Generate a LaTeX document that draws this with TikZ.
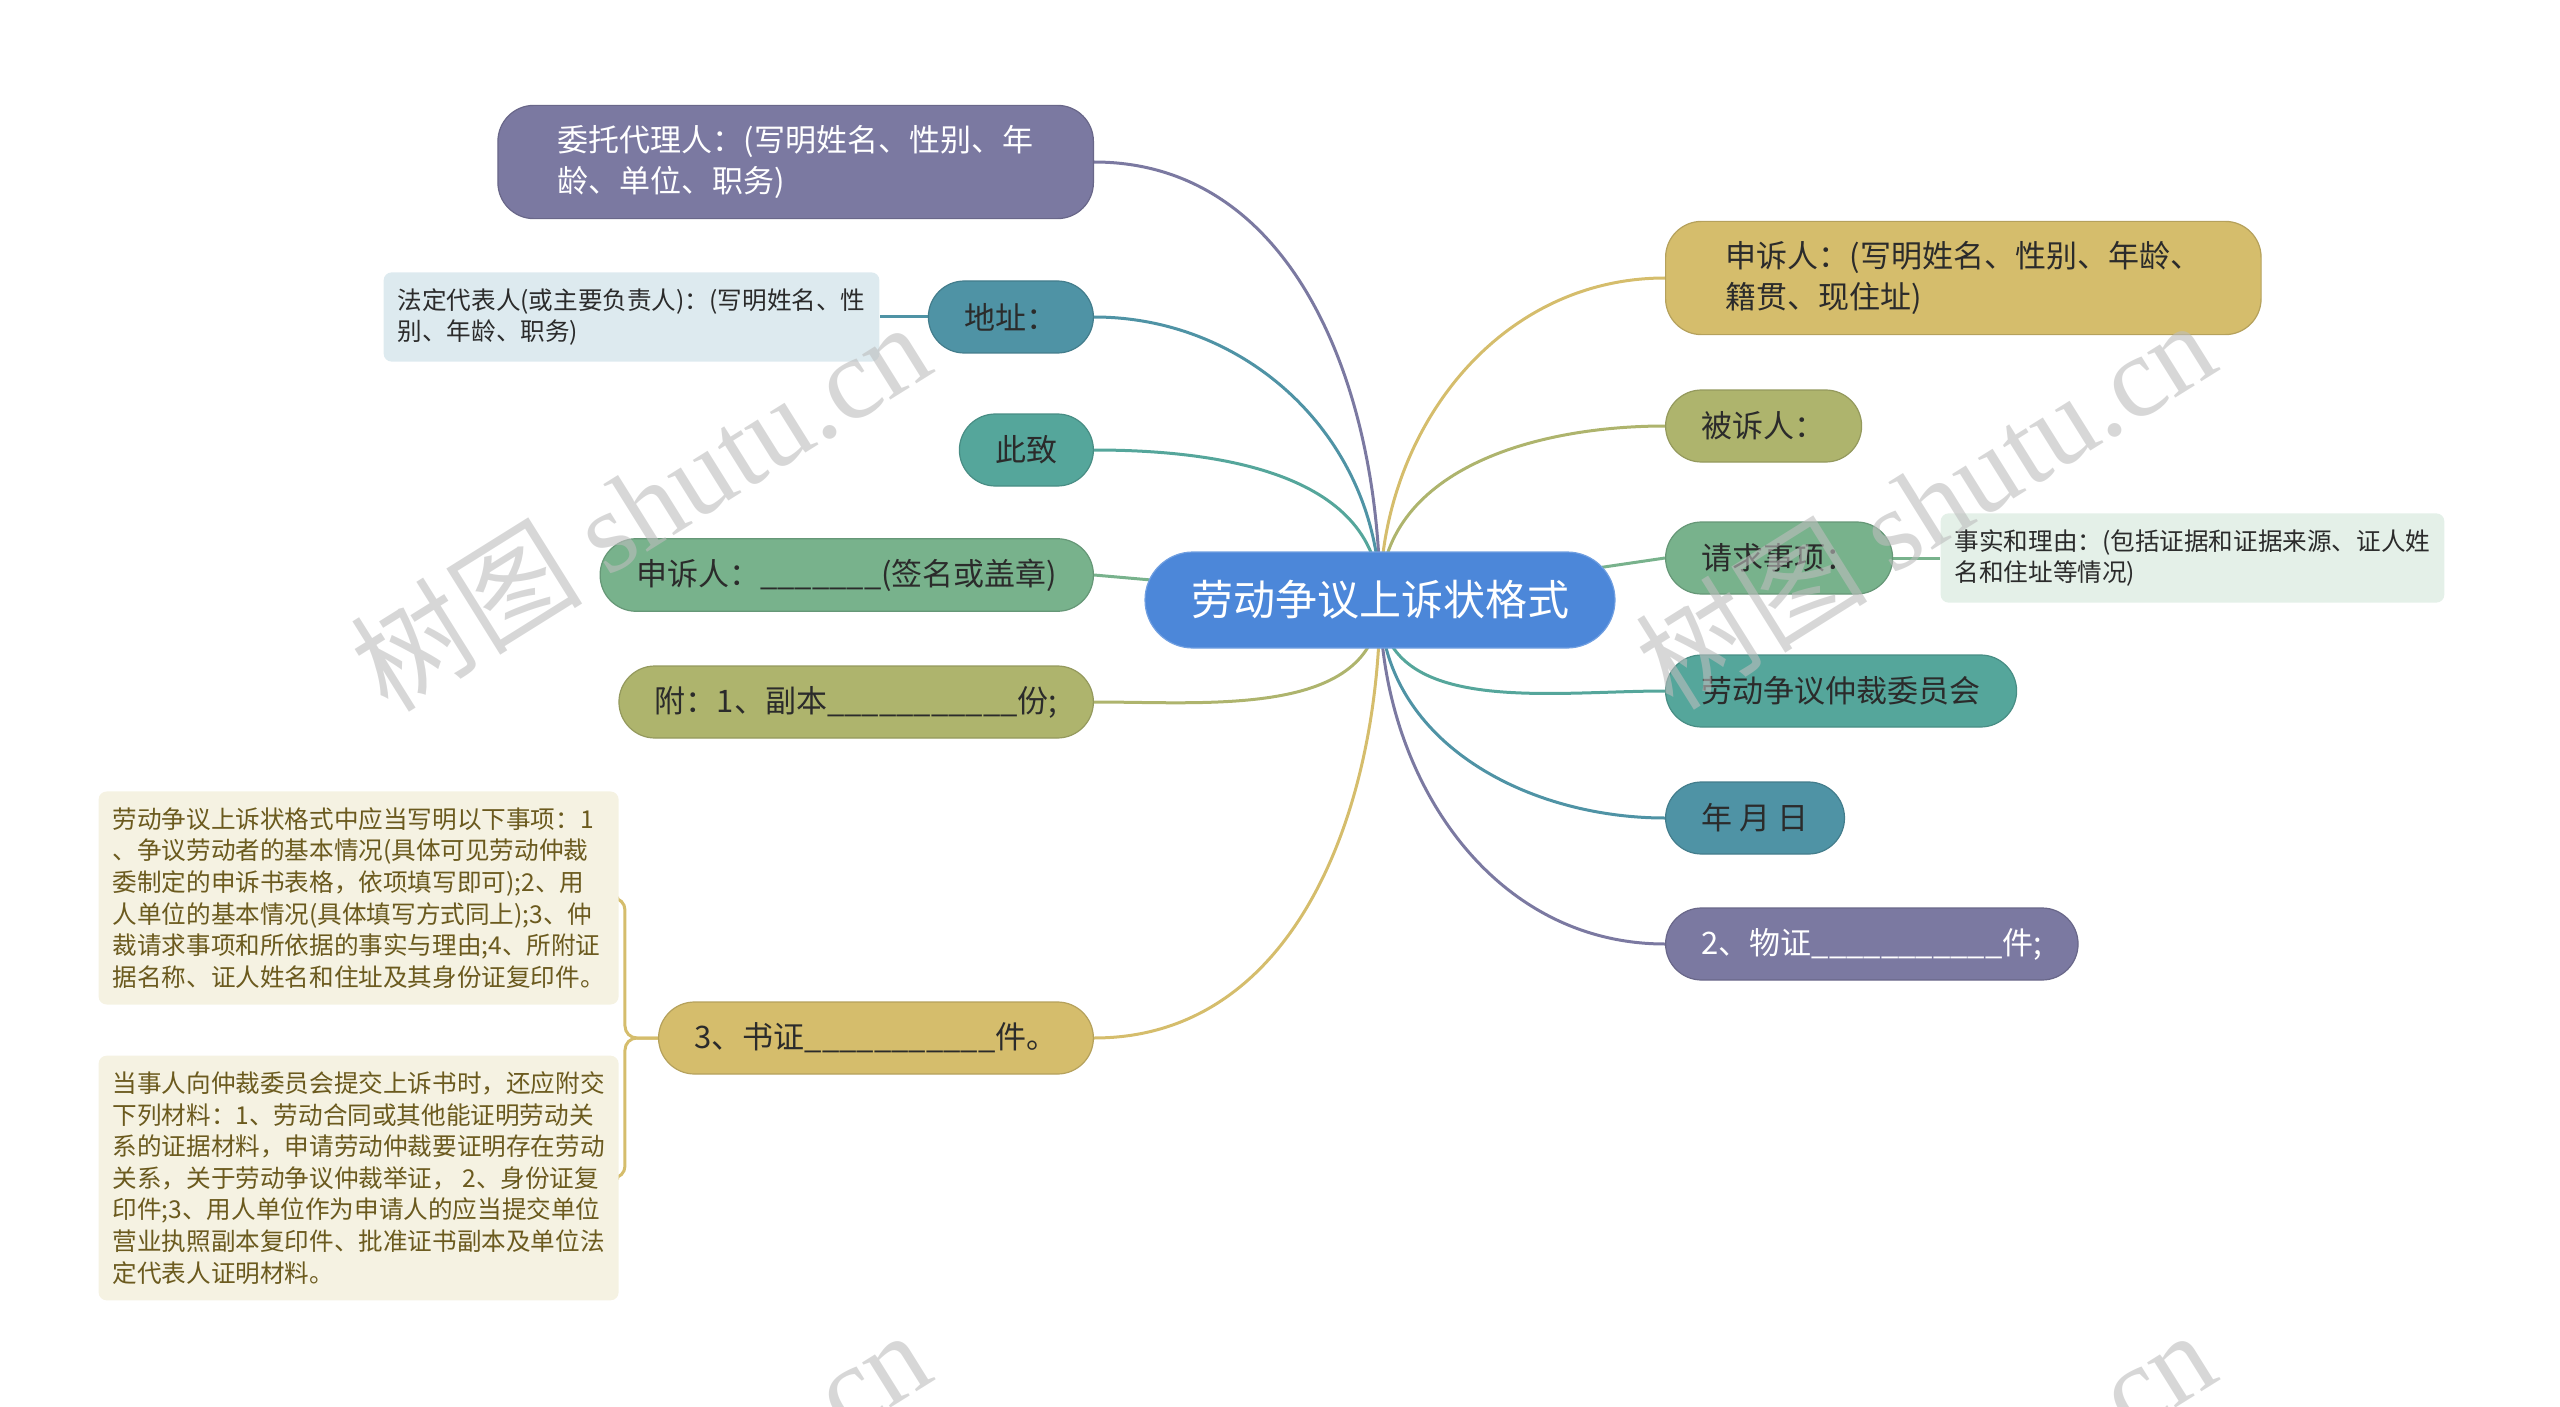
\documentclass[tikz,border=0pt]{standalone}
\usepackage{fontspec}
\setmainfont{Noto Sans CJK SC}
\newfontfamily\wmserif{Liberation Serif}
\usepackage{tikz}
\usetikzlibrary{positioning,backgrounds}
\usepackage{xcolor}
\definecolor{rootblue}{HTML}{4C87D9}
\definecolor{agentpurple}{HTML}{7B79A1}
\definecolor{addrteal}{HTML}{4F93A5}
\definecolor{seateal}{HTML}{55A69B}
\definecolor{leafgreen}{HTML}{78B28C}
\definecolor{olivebranch}{HTML}{AEB46D}
\definecolor{goldbranch}{HTML}{D5BD6C}
\definecolor{bluelight}{HTML}{DDEAEF}
\definecolor{greenlight}{HTML}{E4F0E8}
\definecolor{creamlight}{HTML}{F5F2E2}
\definecolor{creamtext}{HTML}{6B5A1E}
\definecolor{ink}{HTML}{2B2B2B}
\definecolor{wmgray}{HTML}{BDBDBD}
\tikzset{
  rootbox/.style={fill=rootblue,draw=rootblue!80!white,line width=0.6pt,
                  rounded corners=24pt,minimum height=48pt,inner xsep=23pt,
                  text=white,font=\fontsize{21}{25}\selectfont},
  topic/.style={rounded corners=18pt,inner xsep=18pt,inner ysep=10pt,
                minimum height=36pt,align=left,text=ink,line width=0.6pt,
                font=\fontsize{15.5}{20.5}\selectfont},
  widetopic/.style={topic,inner xsep=30pt},
  note/.style={rounded corners=4pt,inner xsep=7pt,inner ysep=8pt,
               align=left,text=ink,font=\fontsize{12.3}{15.8}\selectfont},
  branch/.style={line width=1.5pt},
  watermark/.style={rotate=32,text=wmgray,text opacity=0.6,
                    font=\fontsize{58}{60}\selectfont}
}

\begin{document}
\begin{tikzpicture}[x=0.5pt,y=-0.5pt]
  \useasboundingbox (0,0) rectangle (2560,1407);

  \node[rootbox] (root) at (1380,600) {劳动争议上诉状格式};

  % left side
  \node[widetopic,fill=agentpurple,draw=agentpurple!85!black,text=white,anchor=east] (agent)
    at (1094,162) {委托代理人：(写明姓名、性别、年\\龄、单位、职务)};
  \node[topic,fill=addrteal,draw=addrteal!85!black,anchor=east] (addr)
    at (1094,317) {地址：};
  \node[note,fill=bluelight,left=24pt of addr] (legal)
    {法定代表人(或主要负责人)：(写明姓名、性\\别、年龄、职务)};
  \node[topic,fill=seateal,draw=seateal!85!black,anchor=east] (regards)
    at (1094,450) {此致};
  \node[topic,fill=leafgreen,draw=leafgreen!85!black,anchor=east] (sign)
    at (1094,575) {申诉人：\_\_\_\_\_\_\_(签名或盖章)};
  \node[topic,fill=olivebranch,draw=olivebranch!85!black,anchor=east] (copies)
    at (1094,702) {附：1、副本\_\_\_\_\_\_\_\_\_\_\_份;};
  \node[topic,fill=goldbranch,draw=goldbranch!85!black,anchor=east] (docev)
    at (1094,1038) {3、书证\_\_\_\_\_\_\_\_\_\_\_件。};
  \node[note,fill=creamlight,text=creamtext,anchor=east] (docnoteA) at (619,898)
    {劳动争议上诉状格式中应当写明以下事项：1\\
     、争议劳动者的基本情况(具体可见劳动仲裁\\
     委制定的申诉书表格，依项填写即可);2、用\\
     人单位的基本情况(具体填写方式同上);3、仲\\
     裁请求事项和所依据的事实与理由;4、所附证\\
     据名称、证人姓名和住址及其身份证复印件。};
  \node[note,fill=creamlight,text=creamtext,anchor=east] (docnoteB) at (619,1178)
    {当事人向仲裁委员会提交上诉书时，还应附交\\
     下列材料：1、劳动合同或其他能证明劳动关\\
     系的证据材料，申请劳动仲裁要证明存在劳动\\
     关系，关于劳动争议仲裁举证， 2、身份证复\\
     印件;3、用人单位作为申请人的应当提交单位\\
     营业执照副本复印件、批准证书副本及单位法\\
     定代表人证明材料。};

  % right side
  \node[widetopic,fill=goldbranch,draw=goldbranch!85!black,anchor=west] (appellant)
    at (1665,278) {申诉人：(写明姓名、性别、年龄、\\籍贯、现住址)};
  \node[topic,fill=olivebranch,draw=olivebranch!85!black,anchor=west] (respondent)
    at (1665,426) {被诉人：};
  \node[topic,fill=leafgreen,draw=leafgreen!85!black,anchor=west] (claims)
    at (1665,558) {请求事项：};
  \node[note,fill=greenlight,right=23.5pt of claims] (facts)
    {事实和理由：(包括证据和证据来源、证人姓\\名和住址等情况)};
  \node[topic,fill=seateal,draw=seateal!85!black,anchor=west] (committee)
    at (1665,691) {劳动争议仲裁委员会};
  \node[topic,fill=addrteal,draw=addrteal!85!black,anchor=west] (date)
    at (1665,818) {年 月 日};
  \node[topic,fill=agentpurple,draw=agentpurple!85!black,text=white,anchor=west] (material)
    at (1665,944) {2、物证\_\_\_\_\_\_\_\_\_\_\_件;};

  % connectors behind the boxes
  \begin{scope}[on background layer]
    \draw[branch,draw=agentpurple] (agent.east) to[out=0,in=90] (root.center);
    \draw[branch,draw=addrteal] (addr.east) to[out=0,in=90] (root.center);
    \draw[branch,draw=seateal] (regards.east) to[out=0,in=90] (root.center);
    \draw[branch,draw=leafgreen] (sign.east) -- (root.center);
    \draw[branch,draw=olivebranch] (copies.east) to[out=0,in=-90] (root.center);
    \draw[branch,draw=goldbranch] (docev.east) to[out=0,in=-90] (root.center);
    \draw[branch,draw=goldbranch] (root.center) to[out=90,in=180] (appellant.west);
    \draw[branch,draw=olivebranch] (root.center) to[out=90,in=180] (respondent.west);
    \draw[branch,draw=leafgreen] (root.center) -- (claims.west);
    \draw[branch,draw=seateal] (root.center) to[out=-90,in=180] (committee.west);
    \draw[branch,draw=addrteal] (root.center) to[out=-90,in=180] (date.west);
    \draw[branch,draw=agentpurple] (root.center) to[out=-90,in=180] (material.west);
    \draw[branch,draw=addrteal] (addr.west) -- (legal.east);
    \draw[branch,draw=leafgreen] (claims.east) -- (facts.west);
    \draw[branch,draw=goldbranch,rounded corners=6pt]
      (docev.west) -- ++(-33,0) |- (docnoteA.east);
    \draw[branch,draw=goldbranch,rounded corners=6pt]
      (docev.west) -- ++(-33,0) |- (docnoteB.east);
  \end{scope}

  % watermark
  \begin{scope}
    \clip (0,0) rectangle (2560,1407);
    \foreach \wx/\wy [count=\i] in {640/505,1925/503,640/1513,1925/1513}
      \node[watermark] (wm\i) at (\wx,\wy) {树图 {\wmserif shutu.cn}};
  \end{scope}
\end{tikzpicture}
\end{document}
